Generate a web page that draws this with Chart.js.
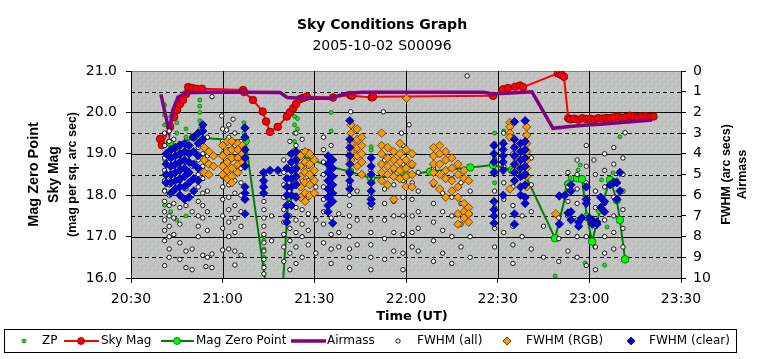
<!DOCTYPE html>
<html><head><meta charset="utf-8">
<script src="https://cdn.jsdelivr.net/npm/chart.js@4.4.1/dist/chart.umd.min.js"></script>
<style>html,body{margin:0;padding:0;background:#fff;}canvas{display:block;}</style>
</head><body>
<canvas id="c" width="764" height="359"></canvas>
<script>
// ---- data (time = minutes after midnight UT) ----
const xTickLabels = ['20:30','21:00','21:30','22:00','22:30','23:00','23:30'];

const airmassT = [1239.8,1242.5,1243.7,1245.4,1248.3,1257.5,1278.8,1281.1,1285.3,1295.1,1300.7,1305.9,1345.2,1348.5,1361.2,1368.1,1372.7,1379.2,1383.5,1400.5];
const airmassV = [1.13,2.93,1.88,1.26,1.05,1.01,1.04,1.28,1.32,1.32,1.08,1.03,1.03,1.11,1.0,2.77,2.69,2.61,2.57,2.37];

const skyT = [1239.5,1240.1,1242.8,1244.1,1245.1,1246,1247,1248,1248.7,1250,1251.3,1253.2,1266.7,1267,1269.9,1273.1,1274.2,1275.5,1278,1281,1282,1283.1,1284,1285.3,1286.3,1287.5,1296.1,1301.7,1302.3,1308.8,1309.2,1348.5,1351.8,1353.4,1355.7,1357.3,1358.3,1369.7,1370.4,1371,1371.7,1373.1,1373.8,1375.1,1376.4,1377.7,1379,1380.3,1381.6,1382.9,1384.2,1385.5,1386.8,1388.1,1389.4,1390.7,1392,1393.3,1394.6,1395.9,1397.2,1398.5,1399.8,1401];
const skyV = [19.36,19.21,19.65,19.89,20.06,20.2,20.3,20.44,20.61,20.59,20.57,20.57,20.54,20.49,20.3,20.02,19.78,19.53,19.65,19.9,20.0,20.1,20.2,20.32,20.35,20.38,20.36,20.42,20.4,20.36,20.38,20.4,20.56,20.59,20.62,20.65,20.61,20.94,20.98,20.9,20.86,19.86,19.83,19.85,19.82,19.86,19.84,19.85,19.83,19.86,19.85,19.87,19.86,19.88,19.9,19.87,19.89,19.92,19.9,19.88,19.9,19.91,19.89,19.9];

const mzpT = [1242.8,1244.4,1250.4,1252.6,1267.5,1274.8,1279.4,1281.5,1285.3,1295.1,1301.7,1308.6,1320.2,1327.9,1341,1348.5,1354.7,1359,1368.8,1373.1,1376,1377.6,1379.2,1380.9,1383.5,1386.8,1389,1390,1391.7];
const mzpV = [19.27,19.15,19.4,19.39,19.31,15.47,15.47,17.96,18.97,18.69,18.57,18.41,18.49,18.57,18.67,18.73,18.61,18.49,16.96,18.27,18.41,18.39,17.48,16.88,17.64,18.37,17.88,17.4,16.45];

// columns: [time, [values...]]
const zpCols = [
 [1241,[20.18,19.94,19.7,19.45,19.21,18.85,18.49,18.13,17.76]],
 [1243,[19.9,19.6,19.3,19.0,18.4,17.6]],
 [1245,[19.75,19.5,19.2,17.4]],
 [1248,[19.6,19.4,19.1,17.9,17.5]],
 [1252.5,[20.3,20.15,20.0,19.8,19.6]],
 [1267,[19.75,19.65,19.5,19.4]],
 [1273.5,[17.0,16.9,16.7,16.5,16.3,16.1]],
 [1282,[17.9,16.9]],
 [1283.5,[20.1,19.9,19.7,19.5,19.3,19.1]],
 [1284.5,[20.2,19.85,19.6]],
 [1295.5,[20.0,19.55]],
 [1308.6,[19.17,19.09]],
 [1349,[19.5,19.25,18.9,18.6,18.3]],
 [1352,[19.55,19.3]],
 [1368.8,[16.05]],[1372.7,[18.13]],[1373.7,[18.42]],[1376.3,[18.61]],[1377,[18.73]],
 [1378.6,[16.36]],[1381.8,[16.75]],[1384,[18.37]],[1385,[17.81,16.31]],[1385.8,[17.23]],
 [1387.7,[18.54]],[1389,[18.37]],[1390,[19.41]]
];

const fwhmAllCols = [
 [1241,[3.0,3.6,4.2,4.8,5.3,5.8,6.3,6.8,7.2,7.7,8.2,9.4]],
 [1242.5,[2.9,3.4,3.9,4.4,5.0,5.5,6.0,6.5,7.0,7.5,8.0,8.6,9.0]],
 [1244,[3.3,4.0,4.6,5.2,5.8,6.4,7.1,7.9]],
 [1246,[3.5,4.1,4.7,5.3,6.0,6.6,7.4,8.3,9.1]],
 [1248,[3.6,4.4,5.0,5.7,6.5,8.7,9.5]],
 [1250,[3.2,3.9,4.6,5.3,6.0,6.8,8.6,9.6]],
 [1252,[3.0,3.7,4.3,5.0,5.6,6.3,7.0,7.5,8.0]],
 [1253.5,[2.7,3.4,4.0,4.6,5.2,5.9,6.5,7.1,8.9]],
 [1254.5,[9.45]],
 [1255,[3.2,4.1,5.0,5.8,6.8,7.7,9.0]],
 [1256.5,[1.24,8.84,9.5]],
 [1259.7,[2.17]],
 [1260,[2.8,3.4,4.0,4.5,5.1,5.6,6.2,7.0,7.6,8.65]],
 [1261.3,[2.85]],
 [1262,[2.6,3.2,3.8,4.4,5.0,5.5,6.1,6.7,7.3,8.0,8.6]],
 [1263.4,[2.33]],
 [1264,[3.0,3.6,4.2,4.8,5.3,5.9,6.5,7.1,7.8,8.7,9.37]],
 [1266,[3.4,4.0,4.7,5.4,6.0,6.8,7.5,8.9]],
 [1273.5,[5.0,5.4,5.9,6.3,6.7,7.1,7.5,7.9,8.3,8.7,9.1,9.5,9.8]],
 [1276,[7.0,8.2]],
 [1280,[4.3,4.9,5.5,6.1,6.7,7.3,7.9,8.5,9.2]],
 [1282,[3.4,4.0,4.6,5.2,5.8,6.4,7.0,7.6,8.2,8.8,9.6]],
 [1284,[3.0,3.6,4.2,4.8,5.4,6.0,6.6,7.2,7.8,8.5,9.3]],
 [1286,[3.3,3.9,4.6,5.3,6.0,6.7,7.4,8.0,9.0]],
 [1288,[3.9,4.6,5.3,6.1,6.9,7.7,8.4]],
 [1290.5,[5.6,7.2,8.8]],
 [1293,[3.2,3.8,4.4,5.0,5.6,6.2,6.8,7.4,8.3]],
 [1295.5,[3.6,4.3,5.0,5.7,6.4,7.1,7.9,8.6,9.3]],
 [1298,[6.9,7.8,8.5]],
 [1301.5,[4.0,4.5,5.0,5.5,6.0,6.5,7.0,7.5,8.0,8.6,9.0,9.5]],
 [1301.9,[1.97]],
 [1304,[5.8,7.2,8.4]],
 [1308.5,[4.2,4.8,5.4,6.0,6.6,7.2,7.8,8.4,9.0,9.6]],
 [1312.6,[1.97]],
 [1313,[4.3,5.0,5.7,6.4,7.2,8.1,9.1]],
 [1316,[4.8,5.5,6.3,7.0,7.8,8.7]],
 [1318.5,[3.0]],
 [1319,[3.6,4.5,5.3,6.1,7.0,7.9,8.8,9.6]],
 [1321,[2.6]],
 [1322,[4.6,5.4,6.2,7.0,7.8,8.5]],
 [1324,[4.9,5.8,6.8,7.6,8.7]],
 [1329,[4.7,5.5,6.4,7.3,8.2,9.2]],
 [1332,[4.9,5.9,6.8,7.7,8.8]],
 [1335,[5.2,6.1,7.0,8.0,9.3]],
 [1338,[5.4,6.4,7.4,8.5]],
 [1340,[0.24]],
 [1341,[5.8,6.9,8.0,9.0]],
 [1349,[3.6,4.3,5.0,5.8,6.6,7.6,8.5]],
 [1352,[3.0,3.8,4.6,5.4,6.2,7.0,7.8]],
 [1355,[3.2,4.0,4.8,5.6,6.5,7.5,8.4,9.3]],
 [1358,[3.5,4.3,5.1,6.0,7.0,8.0]],
 [1361,[4.2,5.5,6.8,8.6]],
 [1365,[7.5,9.0]],
 [1370,[6.0,7.1,8.1,9.2]],
 [1373,[4.9,5.6,6.3,7.0,7.8,8.7]],
 [1376,[4.3,5.0,5.7,6.4,7.2,8.0,9.0]],
 [1379,[3.6,4.6,5.4,6.2,7.1,8.0,9.4]],
 [1381.5,[4.3]],
 [1382,[5.0,5.8,6.6,7.5,8.5,9.6]],
 [1385,[4.0,4.8,5.6,6.4,7.2,8.0,8.8]],
 [1388,[3.7,4.5,5.3,6.1,7.0,7.8,8.6]],
 [1391,[4.2,5.0,5.8,6.7,7.6,8.5]],
 [1391.7,[2.98]]
];

const fwhmRgbCols = [
 [1254,[3.7,4.3,4.9]],[1255.5,[3.9,4.5,5.0]],[1257,[4.1,4.6]],
 [1260,[3.6,4.1,4.6,5.0]],[1261.5,[3.4,3.9,4.4,4.8,5.2]],[1263,[3.4,3.8,4.2,4.7,5.1,5.4]],
 [1265,[3.5,3.8,4.2,4.5,4.9]],[1266.5,[3.6,4.0,4.4]],
 [1285.5,[4.1,4.6,5.1,5.6,6.1]],[1287,[3.9,4.4,4.9,5.4,5.9,6.3]],[1288.5,[4.0,4.5,5.0,5.5,6.0]],[1290,[4.3,4.8,5.3,5.9]],
 [1302,[2.6,3.0,3.5,3.9,4.3]],[1304,[2.8,3.3,3.7,4.1,4.6]],[1305.5,[3.2,3.6,4.0,4.4,5.0]],
 [1312,[3.0,3.6,4.0,4.5,4.9,5.3]],[1314,[3.7,4.2,4.6,5.0,5.5]],[1316,[3.9,4.3,4.7,5.1,6.2]],
 [1318,[3.5,4.0,4.4,4.8,5.2]],[1320,[3.8,4.3,4.7,5.1,5.6]],[1320.2,[1.32]],[1322,[4.0,4.5,5.0,5.6]],
 [1329,[3.7,4.1,4.5,4.9,5.4]],[1331,[3.6,4.0,4.5,5.0,5.7]],[1333,[3.9,4.3,4.8,5.2,6.1]],
 [1335,[4.2,4.7,5.3,5.8]],[1337,[4.5,5.0,5.6,6.1,6.9,7.4]],[1339,[4.8,5.2,6.4,6.8,7.1]],[1340.5,[5.3,6.6,6.9,7.3]],
 [1354,[2.5,2.7,3.0,3.2,5.7]],[1356,[3.6,4.2,4.7]],[1359.5,[2.7,3.1,3.5,3.9,4.3,4.7,5.1,5.6]],[1369,[6.9]]
];

const fwhmClearCols = [
 [1241.5,[4.0,4.5,5.0,5.4]],[1243,[3.8,4.2,4.6,5.0,5.4,5.9]],[1244.5,[3.7,4.1,4.5,4.9,5.3,5.7]],
 [1246,[3.6,4.0,4.4,4.8,5.2,5.6,6.0]],[1247.5,[3.5,3.9,4.3,4.7,5.1,5.6,6.2]],[1249,[3.6,4.0,4.4,4.9,5.4,6.1]],
 [1250.5,[3.2,3.9,4.5,5.2,5.8]],[1252,[3.0,3.5,4.1,4.7,5.3]],[1253.5,[2.6,2.9,3.3]],
 [1267.3,[2.75,3.2,3.8,4.2,4.6,5.6,5.9,6.2,6.9]],
 [1273.4,[4.9,5.3,5.6,5.9]],[1275.5,[4.8]],[1278.1,[4.8]],
 [1281,[4.7,5.2,5.6,6.0,6.5,7.0,7.3]],[1282.5,[4.0,4.4,4.8,5.2,5.6,6.0,6.5]],[1284,[3.9,4.3,4.7,5.1,5.5,6.1]],
 [1294.5,[4.1,4.5,4.9,5.3,5.7,6.1,6.5,6.8]],[1296,[4.3,4.7,5.1,5.5,5.9,6.3,7.35]],
 [1301.6,[2.4,3.3,3.7,4.1,4.5,4.9,5.3,5.7]],
 [1308.6,[4.2,4.6,5.0,5.4,5.8,6.2,6.4]],
 [1348.8,[3.6,4.0,4.4,4.9,6.3,6.7,7.0,7.35]],[1351.8,[3.5,3.8,4.1,4.4,4.8,6.0]],
 [1355.5,[2.45,3.3,3.7,4.1,4.5,4.9,5.3,6.9,7.4]],[1357.5,[3.5,3.9,4.3,4.7,5.1,5.6,6.0]],
 [1359,[2.4,3.4,3.8,4.2,4.6,5.0,5.5,6.1,6.4]],
 [1370.2,[6.04,7.39]],[1372,[6.0]],[1373,[6.86]],[1374,[5.5,5.8,6.8,7.2]],[1376.5,[7.3,7.5]],
 [1377.5,[7.1]],[1379,[5.6,6.2,6.4]],[1380,[7.1]],[1381,[7.2,7.4]],[1382.5,[7.3,7.4]],
 [1383.7,[6.1,6.6]],[1385,[6.3,6.8]],[1386.8,[5.5]],[1388,[5.4]],[1389,[5.4,6.2]],[1390,[4.9,5.8]]
];

// ---- helpers ----
function pairs(ts, vs){ return ts.map((t,i)=>({x:t,y:vs[i]})); }
function cols(c){ const out=[]; for (const [t,vs] of c) for (const v of vs) out.push({x:t,y:v}); return out; }

const HF = 'DejaVu Sans';
const VF = 'Liberation Sans';

// background pattern
function makePattern(ctx){
  const pc = document.createElement('canvas'); pc.width = 8; pc.height = 8;
  const p = pc.getContext('2d');
  p.fillStyle = '#c3c3c3'; p.fillRect(0,0,8,8);
  p.fillStyle = '#8fbf8f'; p.fillRect(1,1,1,1); p.fillRect(5,5,1,1);
  p.fillStyle = '#a9b9a9'; p.fillRect(6,2,1,1); p.fillRect(2,6,1,1);
  return ctx.createPattern(pc, 'repeat');
}

const decor = {
  id: 'decor',
  beforeDraw(chart){
    const ctx = chart.ctx, a = chart.chartArea;
    const ys = chart.scales.y, xs = chart.scales.x;
    ctx.save();
    ctx.fillStyle = '#fff'; ctx.fillRect(0,0,chart.width,chart.height);
    ctx.fillStyle = makePattern(ctx);
    ctx.fillRect(a.left, a.top, a.right - a.left, a.bottom - a.top);
    ctx.strokeStyle = '#808080'; ctx.lineWidth = 1;
    ctx.strokeRect(Math.round(a.left)+0.5, Math.round(a.top)+0.5, Math.round(a.right-a.left), Math.round(a.bottom-a.top));
    ctx.strokeStyle = '#000';
    for (let m = 16.5; m < 21; m += 0.5){
      const y = Math.round(ys.getPixelForValue(m)) + 0.5;
      ctx.setLineDash(Number.isInteger(m) ? [] : [4,3]);
      ctx.beginPath(); ctx.moveTo(a.left, y); ctx.lineTo(a.right, y); ctx.stroke();
    }
    ctx.setLineDash([]);
    for (let t = 1260; t < 1410; t += 30){
      const x = Math.round(xs.getPixelForValue(t)) + 0.5;
      ctx.beginPath(); ctx.moveTo(x, a.top); ctx.lineTo(x, a.bottom); ctx.stroke();
    }
    ctx.restore();
  },
  afterDraw(chart){
    const ctx = chart.ctx, a = chart.chartArea;
    const cy = (a.top + a.bottom)/2;
    ctx.save();
    ctx.fillStyle = '#000';
    ctx.textAlign = 'center'; ctx.textBaseline = 'middle';
    const vt = (txt, x, y, size) => {
      ctx.save(); ctx.translate(x, y); ctx.rotate(-Math.PI/2);
      ctx.font = 'bold ' + size + 'px "' + VF + '"';
      ctx.fillText(txt, 0, 0); ctx.restore();
    };
    vt('Mag Zero Point', 34, cy, 14.5);
    vt('Sky Mag', 54, cy, 14);
    vt('(mag per sq. arc sec)', 73, cy, 12.5);
    vt('FWHM (arc secs)', 727, cy, 12.5);
    vt('Airmass', 743, cy, 12.5);
    ctx.font = 'bold 13px "' + HF + '"';
    ctx.fillText('Time (UT)', 412, 317);
    ctx.strokeStyle = '#000'; ctx.lineWidth = 1;
    ctx.strokeRect(4.5, 329.5, 732, 23);
    const ly = 341;
    const dot = (x, r, fill, stroke, lw) => { ctx.beginPath(); ctx.arc(x, ly, r, 0, Math.PI*2); ctx.fillStyle = fill; ctx.fill(); ctx.lineWidth = lw; ctx.strokeStyle = stroke; ctx.stroke(); };
    const dia = (x, r, fill) => { ctx.beginPath(); ctx.moveTo(x, ly-r); ctx.lineTo(x+r, ly); ctx.lineTo(x, ly+r); ctx.lineTo(x-r, ly); ctx.closePath(); ctx.fillStyle = fill; ctx.fill(); ctx.lineWidth = 0.7; ctx.strokeStyle = '#000'; ctx.stroke(); };
    const seg = (x1, x2, col, w) => { ctx.beginPath(); ctx.moveTo(x1, ly); ctx.lineTo(x2, ly); ctx.strokeStyle = col; ctx.lineWidth = w; ctx.stroke(); };
    dot(24, 2, '#22dd22', '#006600', 0.7);
    seg(64, 99, '#ff0000', 2); dot(81, 3.5, '#ff0000', '#700000', 0.8);
    seg(161, 194, '#008000', 2); dot(177, 3.5, '#00ff00', '#006000', 0.8);
    seg(291, 326, '#800080', 3.5);
    dot(398, 2.2, '#ffffff', '#000', 0.9);
    dia(507, 4, '#ff9900');
    dia(631, 4, '#0000ee');
    ctx.fillStyle = '#000'; ctx.textAlign = 'left';
    ctx.font = '12px "' + HF + '"';
    [['ZP',42],['Sky Mag',101],['Mag Zero Point',196],['Airmass',327],['FWHM (all)',417],['FWHM (RGB)',526],['FWHM (clear)',649]]
      .forEach(([t,x]) => ctx.fillText(t, x, ly));
    ctx.restore();
  }
};

const tickFont = {family: HF, size: 14};

new Chart(document.getElementById('c'), {
  type: 'scatter',
  data: { datasets: [
    { label:'ZP', data: cols(zpCols), yAxisID:'y', order:7,
      pointRadius:2, pointBackgroundColor:'#22dd22', pointBorderColor:'#006600', pointBorderWidth:0.7 },
    { label:'Sky Mag', data: pairs(skyT, skyV), yAxisID:'y', order:6, showLine:true,
      borderColor:'#ff0000', borderWidth:2, pointRadius:3.8, pointBackgroundColor:'#ff0000', pointBorderColor:'#700000', pointBorderWidth:0.8 },
    { label:'Mag Zero Point', data: pairs(mzpT, mzpV), yAxisID:'y', order:5, showLine:true,
      borderColor:'#008000', borderWidth:2, pointRadius:3.8, pointBackgroundColor:'#00ff00', pointBorderColor:'#006000', pointBorderWidth:0.8 },
    { label:'Airmass', data: pairs(airmassT, airmassV), yAxisID:'y2', order:4, showLine:true,
      borderColor:'#800080', borderWidth:3.5, pointRadius:0 },
    { label:'FWHM (all)', data: cols(fwhmAllCols), yAxisID:'y2', order:3,
      pointRadius:2.2, pointBackgroundColor:'#ffffff', pointBorderColor:'#000000', pointBorderWidth:0.9 },
    { label:'FWHM (RGB)', data: cols(fwhmRgbCols), yAxisID:'y2', order:2, pointStyle:'rectRot',
      pointRadius:4.2, pointBackgroundColor:'#ff9900', pointBorderColor:'#3a2500', pointBorderWidth:0.7 },
    { label:'FWHM (clear)', data: cols(fwhmClearCols), yAxisID:'y2', order:1, pointStyle:'rectRot',
      pointRadius:4.2, pointBackgroundColor:'#0000ee', pointBorderColor:'#000030', pointBorderWidth:0.7 }
  ]},
  options: {
    responsive:false, animation:false, devicePixelRatio:1,
    layout:{padding:0},
    events: [],
    plugins: {
      legend:{display:false}, tooltip:{enabled:false},
      title:{display:true, text:'Sky Conditions Graph', color:'#000',
        font:{family:HF, size:14, weight:'bold'}, padding:{top:16.6, bottom:4.2}},
      subtitle:{display:true, text:'2005-10-02 S00096', color:'#000',
        font:{family:HF, size:14}, padding:{top:0, bottom:16.6}}
    },
    scales: {
      x: { type:'linear', position:'bottom', min:1230, max:1410,
        ticks:{ stepSize:30, autoSkip:false, maxRotation:0, color:'#000', font:tickFont, padding:8,
          callback:(v)=> xTickLabels[Math.round((v-1230)/30)] },
        grid:{ drawOnChartArea:false, tickLength:5, tickColor:'#000', color:'#000' },
        border:{ color:'#000', width:1 },
        afterFit(s){ s.height = 81; } },
      y: { position:'left', min:16, max:21,
        ticks:{ stepSize:1, color:'#000', font:tickFont, padding:9, callback:(v)=> Number(v).toFixed(1) },
        grid:{ drawOnChartArea:false, tickLength:5, tickColor:'#000', color:'#000' },
        border:{ color:'#000', width:1 },
        afterFit(s){ s.width = 131; } },
      y2: { position:'right', min:0, max:10, reverse:true,
        ticks:{ stepSize:1, color:'#000', font:tickFont, padding:7 },
        grid:{ drawOnChartArea:false, tickLength:5, tickColor:'#000', color:'#000' },
        border:{ color:'#000', width:1 },
        afterFit(s){ s.width = 83; } }
    }
  },
  plugins:[decor]
});
</script>
</body></html>
